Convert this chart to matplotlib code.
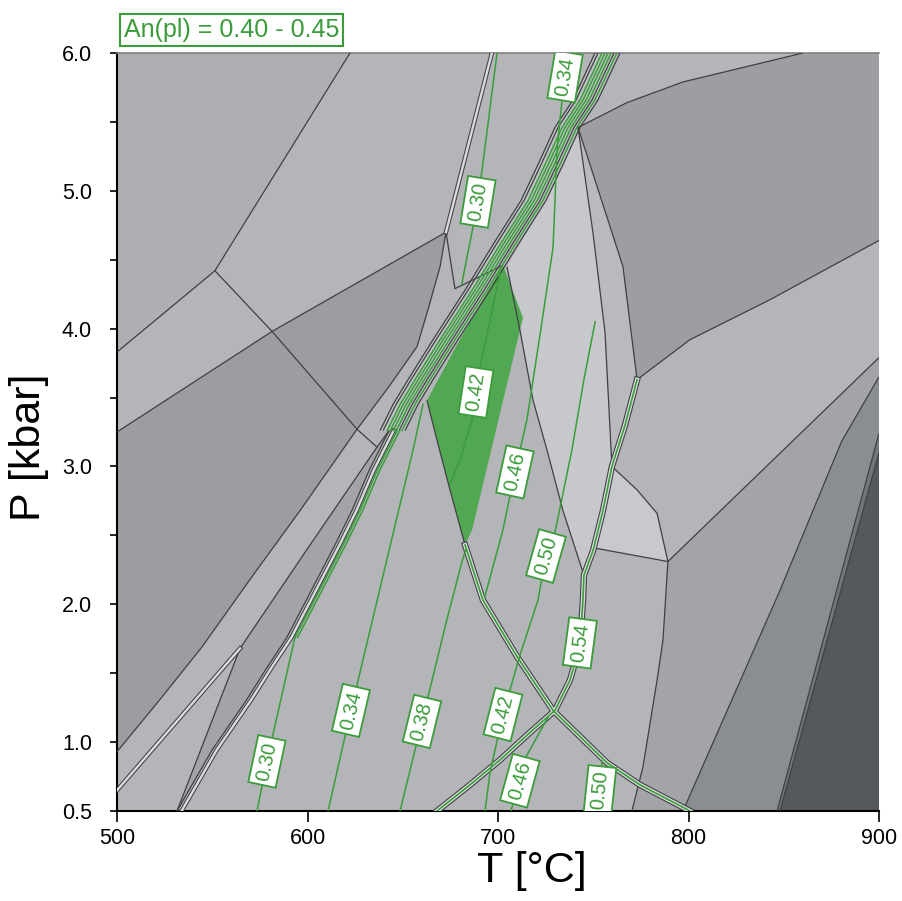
import numpy as np
import matplotlib
matplotlib.use("Agg")
import matplotlib.pyplot as plt
from matplotlib.patches import Polygon

plt.rcParams['font.family'] = ['Liberation Sans', 'DejaVu Sans']

# ---------------- axis data ----------------
x_ticks = [500, 600, 700, 800, 900]
y_ticks = [0.5, 1.0, 2.0, 3.0, 4.0, 5.0, 6.0]
y_tick_labels = ['0.5', '1.0', '2.0', '3.0', '4.0', '5.0', '6.0']
y_minor = [1.5, 2.5, 3.5, 4.5, 5.5]

# ---------------- field polygons (T degC, P kbar) ----------------
fieldA_T = [500, 622.3, 551.4, 500]
fieldA_P = [6.0, 6.0, 4.42, 3.83]
fieldE_T = [500, 581.4, 672.7, 669.6, 663.3, 657.5, 643.3, 626.0, 596.1, 569.8, 544.6, 522.6, 500]
fieldE_P = [3.25, 3.98, 4.70, 4.45, 4.14, 3.87, 3.59, 3.27, 2.68, 2.18, 1.69, 1.31, 0.93]
fieldW2_T = [531.5, 564.6, 601.3, 636.5, 642.8, 632.3, 623.4, 614.4, 605.0, 589.2, 578.7, 568.2, 549.9]
fieldW2_P = [0.50, 1.68, 2.43, 3.14, 3.26, 2.97, 2.68, 2.43, 2.18, 1.76, 1.54, 1.31, 0.94]
fieldL1_T = [742.0, 749.9, 756.2, 759.8, 755.1, 749.9, 745.1, 734.1, 725.7, 718.4, 711.5, 704.7, 725.2, 734.1]
fieldL1_P = [5.46, 4.69, 3.97, 3.01, 2.68, 2.39, 2.21, 2.68, 3.12, 3.48, 3.99, 4.45, 4.93, 5.19]
fieldL2_T = [742.0, 765.6, 773.0, 766.7, 759.8, 756.2, 749.9]
fieldL2_P = [5.46, 4.45, 3.63, 3.30, 3.01, 3.97, 4.69]
fieldD_T = [742.0, 767.7, 797.1, 860.1, 900, 900, 842.8, 800.8, 773.0, 765.6]
fieldD_P = [5.46, 5.64, 5.79, 6.0, 6.0, 4.64, 4.21, 3.92, 3.63, 4.45]
fieldL3_T = [759.8, 773.0, 783.5, 789.2, 749.9, 755.1]
fieldL3_P = [3.00, 2.83, 2.66, 2.31, 2.41, 2.68]
fieldR3_T = [789.2, 900, 900, 880.3, 848.0, 797.1, 770.3, 776.1, 783.5, 786.6]
fieldR3_P = [2.31, 3.79, 3.65, 3.18, 2.10, 0.50, 0.50, 0.82, 1.45, 1.74]
fieldR4_T = [900, 900, 846.5, 797.1, 848.0, 880.3]
fieldR4_P = [3.65, 3.24, 0.5, 0.5, 2.10, 3.18]
fieldS_T = [900, 900, 848.0, 846.5]
fieldS_P = [3.24, 3.10, 0.5, 0.5]
fieldR5_T = [900, 900, 848.0]
fieldR5_P = [3.10, 0.5, 0.5]
green_T = [702.6, 713.1, 686.4, 682.7, 674.8, 668.0, 662.7, 682.7]
green_P = [4.46, 4.08, 2.54, 2.43, 2.83, 3.19, 3.48, 3.99]

# ---------------- boundary band (many stacked lines) ----------------
band_T = [757.2, 745.7, 736.2, 727.3, 718.4, 703.7, 689.5, 672.2, 659.1, 651.2, 644.4]
band_P = [6.00, 5.66, 5.46, 5.19, 4.93, 4.61, 4.29, 3.92, 3.63, 3.45, 3.26]
band_offsets = [-6.3, -4.7, -2.6, -1.0, 0.6, 2.2, 3.7, 5.2, 6.8]
band_kinds = ['k', 'k', 'g', 'g', 'g', 'g', 'k', 'g', 'k']
low_T = [644.4, 633.9, 624.9, 616.0, 606.6, 590.8, 580.3, 569.8, 551.4, 533.1]
low_P = [3.26, 2.97, 2.68, 2.43, 2.18, 1.76, 1.54, 1.31, 0.94, 0.50]

# ---------------- field boundaries ----------------
line_a_T = [622.3, 551.4, 500]
line_a_P = [6.0, 4.42, 3.83]
line_b_T = [551.4, 581.4, 626.0, 636.5]
line_b_P = [4.42, 3.98, 3.27, 3.14]
line_L2_T = [500, 581.4, 672.7]
line_L2_P = [3.25, 3.98, 4.70]
dbl_top_T = [696.8, 672.7]
dbl_top_P = [6.0, 4.70]
line2_T = [564.6, 601.3, 636.5, 642.8]
line2_P = [1.68, 2.43, 3.14, 3.26]
dbl_left_T = [500, 564.6]
dbl_left_P = [0.65, 1.68]
wedge_T = [564.6, 531.5]
wedge_P = [1.68, 0.50]
short_T = [672.7, 677.4, 702.6]
short_P = [4.70, 4.29, 4.46]
gf_left_T = [662.7, 668.0, 674.8, 682.7]
gf_left_P = [3.48, 3.19, 2.83, 2.43]
desc_T = [682.7, 692.1, 710.0, 728.9, 757.2, 774.5, 800.8]
desc_P = [2.43, 2.03, 1.62, 1.23, 0.85, 0.69, 0.50]
asc_T = [668.0, 685.3, 701.0, 716.8, 729.9, 737.8, 743.0, 744.6, 745.1, 749.9, 755.1, 759.8, 766.7, 773.0]
asc_P = [0.50, 0.69, 0.87, 1.07, 1.23, 1.45, 1.70, 2.03, 2.21, 2.39, 2.68, 3.00, 3.30, 3.63]
arm_T = [704.7, 711.5, 718.4, 725.7, 734.1, 745.1]
arm_P = [4.45, 3.99, 3.48, 3.12, 2.68, 2.21]
lineA_T = [742.0, 749.9, 756.2, 759.8]
lineA_P = [5.46, 4.69, 3.97, 3.00]
lineB_T = [742.0, 765.6, 773.0]
lineB_P = [5.46, 4.45, 3.63]
Dtop_T = [742.0, 767.7, 797.1, 860.1]
Dtop_P = [5.46, 5.64, 5.79, 6.0]
Dbot_T = [773.0, 800.8, 842.8, 900]
Dbot_P = [3.63, 3.92, 4.21, 4.64]
R2bot_T = [900, 789.2]
R2bot_P = [3.79, 2.31]
L3edge_T = [759.8, 773.0, 783.5, 789.2, 749.9]
L3edge_P = [3.00, 2.83, 2.66, 2.31, 2.41]
lineC_T = [789.2, 786.6, 783.5, 776.1, 770.3]
lineC_P = [2.31, 1.74, 1.45, 0.82, 0.50]
line2R_T = [900, 880.3, 848.0, 797.1]
line2R_P = [3.65, 3.18, 2.10, 0.50]
line3R_T = [900, 846.5]
line3R_P = [3.24, 0.5]
line4R_T = [900, 848.0]
line4R_P = [3.10, 0.5]

# ---------------- An(pl) isopleths ----------------
iso030_up_T = [699.5, 689.5, 681.6, 681.1]
iso030_up_P = [6.0, 4.92, 4.37, 4.32]
iso046_up_T = [737.8, 735.2, 733.1, 731.0, 728.9, 722.0, 715.2, 708.9, 702.6, 693.0]
iso046_up_P = [6.0, 5.83, 5.59, 5.30, 4.59, 3.95, 3.34, 2.96, 2.54, 2.05]
iso042_gf_T = [701.0, 690.6, 686.4, 680.1, 674.8]
iso042_gf_P = [4.40, 3.72, 3.34, 3.05, 2.87]
iso050_T = [751.0, 745.1, 738.8, 729.9, 725.2, 721.0, 711.5, 702.6, 695.8, 693.2]
iso050_P = [4.05, 3.63, 3.12, 2.52, 2.35, 2.03, 1.63, 1.20, 0.78, 0.50]
iso030_low_T = [573.5, 578.7, 593.4]
iso030_low_P = [0.50, 0.86, 1.76]
iso034_low_T = [610.8, 622.8, 655.4, 660.6]
iso034_low_P = [0.50, 1.23, 3.12, 3.45]
iso038_low_T = [648.6, 660.1, 673.2, 681.1, 683.2]
iso038_low_P = [0.50, 1.15, 1.89, 2.31, 2.40]
iso046_low_T = [706.8, 711.5, 714.6, 726.2]
iso046_low_P = [0.50, 0.72, 0.89, 1.18]
iso050_low_T = [752.0, 753.5, 754.6]
iso050_low_P = [0.50, 0.65, 0.86]

label_text = ['0.30', '0.34', '0.42', '0.46', '0.50', '0.54', '0.30', '0.34', '0.38', '0.42', '0.46', '0.50']
label_T = [689.5, 735.2, 688.4, 708.9, 725.2, 743.0, 578.7, 622.8, 660.1, 702.6, 711.5, 753.5]
label_P = [4.92, 5.83, 3.54, 2.96, 2.35, 1.72, 0.86, 1.23, 1.15, 1.20, 0.72, 0.65]

title_text = 'An(pl) = 0.40 - 0.45'

# ---------------- styling ----------------
BASE = '#b3b5b8'
GREEN = '#3b9c3b'
DARK = '#3f4042'
LIGHT = '#d9dbdd'

fig = plt.figure(figsize=(9.02, 9.01), dpi=100)
ax = fig.add_axes([117/902, 90/901, 762/902, 758/901])
ax.set_xlim(500, 900)
ax.set_ylim(0.5, 6.0)
ax.set_facecolor(BASE)

fields = [
    (fieldA_T, fieldA_P, '#adafb2'),
    (fieldE_T, fieldE_P, '#9b9da0'),
    (fieldW2_T, fieldW2_P, '#a2a4a7'),
    (fieldL1_T, fieldL1_P, '#c6c8cb'),
    (fieldL2_T, fieldL2_P, '#b8babd'),
    (fieldD_T, fieldD_P, '#9c9ea1'),
    (fieldL3_T, fieldL3_P, '#c7c9cc'),
    (fieldR3_T, fieldR3_P, '#a2a4a7'),
    (fieldR4_T, fieldR4_P, '#8b8e91'),
    (fieldS_T, fieldS_P, '#737679'),
    (fieldR5_T, fieldR5_P, '#55585c'),
]
for T, P, c in fields:
    ax.add_patch(Polygon(np.column_stack([T, P]), closed=True, fc=c, ec='none', zorder=1))

# band fill
bT = np.array(band_T); bP = np.array(band_P)
left = np.column_stack([bT + min(band_offsets), bP])
right = np.column_stack([bT + max(band_offsets), bP])[::-1]
ax.add_patch(Polygon(np.vstack([left, right]), closed=True, fc='#bfc1c4', ec='none', zorder=1.5))

ax.add_patch(Polygon(np.column_stack([green_T, green_P]), closed=True, fc='#52a852', ec='none', zorder=2))


def black(T, P, lw=0.9):
    ax.plot(T, P, color=DARK, lw=lw, zorder=3, solid_capstyle='butt')


def double(T, P, green=False):
    if green:
        ax.plot(T, P, color=DARK, lw=4.6, zorder=3, solid_joinstyle='round')
        ax.plot(T, P, color=LIGHT, lw=3.0, zorder=3.1, solid_joinstyle='round')
        ax.plot(T, P, color=GREEN, lw=1.2, zorder=3.2, solid_joinstyle='round')
    else:
        ax.plot(T, P, color=DARK, lw=3.2, zorder=3, solid_joinstyle='round')
        ax.plot(T, P, color=LIGHT, lw=1.7, zorder=3.1, solid_joinstyle='round')


def gline(T, P, lw=1.1):
    ax.plot(T, P, color=GREEN, lw=lw, zorder=4)


for T, P in [(line_a_T, line_a_P), (line_b_T, line_b_P), (line_L2_T, line_L2_P),
             (fieldE_T[2:], fieldE_P[2:]), (line2_T, line2_P), (wedge_T, wedge_P),
             (short_T, short_P), (gf_left_T, gf_left_P), (arm_T, arm_P),
             (lineA_T, lineA_P), (lineB_T, lineB_P), (Dtop_T, Dtop_P), (Dbot_T, Dbot_P),
             (R2bot_T, R2bot_P), (L3edge_T, L3edge_P), (lineC_T, lineC_P),
             (line2R_T, line2R_P), (line3R_T, line3R_P), (line4R_T, line4R_P)]:
    black(T, P)

double(dbl_top_T, dbl_top_P)
double(dbl_left_T, dbl_left_P)
double(desc_T, desc_P, green=True)
double(asc_T, asc_P, green=True)

# upper band lines
for off, kind in zip(band_offsets, band_kinds):
    if kind == 'k':
        black(bT + off, bP)
    else:
        gline(bT + off, bP)

# lower band
lT = np.array(low_T); lP = np.array(low_P)
black(lT - 1.6, lP)
double(lT + 0.8, lP)
gline(lT[:6] + 2.6, lP[:6])
gline(lT[:6] + 4.0, lP[:6])

isos = [(iso030_up_T, iso030_up_P), (iso046_up_T, iso046_up_P), (iso042_gf_T, iso042_gf_P),
        (iso050_T, iso050_P), (iso030_low_T, iso030_low_P), (iso034_low_T, iso034_low_P),
        (iso038_low_T, iso038_low_P), (iso046_low_T, iso046_low_P), (iso050_low_T, iso050_low_P)]
for T, P in isos:
    gline(T, P)

label_lines = [isos[0], isos[1], isos[2], isos[1], isos[3], (asc_T, asc_P),
               isos[4], isos[5], isos[6], isos[3], isos[7], isos[8]]


def angle_at(T, P, p0):
    T = np.asarray(T, float); P = np.asarray(P, float)
    o = np.argsort(P)
    Ps, Ts = P[o], T[o]
    d = 0.05
    t1 = np.interp(p0 - d, Ps, Ts); t2 = np.interp(p0 + d, Ps, Ts)
    a = ax.transData.transform([(t1, p0 - d), (t2, p0 + d)])
    return np.degrees(np.arctan2(a[1, 1] - a[0, 1], a[1, 0] - a[0, 0]))


for s, t, p, (LT, LP) in zip(label_text, label_T, label_P, label_lines):
    ang = angle_at(LT, LP, p)
    ax.text(t, p, s, rotation=ang, rotation_mode='anchor', ha='center', va='center',
            fontsize=14.5, color=GREEN, zorder=6, clip_on=True,
            bbox=dict(boxstyle='square,pad=0.22', fc='white', ec=GREEN, lw=1.3))

# axes styling
ax.set_xticks(x_ticks)
ax.set_xticklabels([str(v) for v in x_ticks])
ax.set_yticks(y_ticks)
ax.set_yticklabels(y_tick_labels)
ax.set_yticks(y_minor, minor=True)
ax.tick_params(axis='x', direction='out', length=8, width=1.2, pad=4, labelsize=15.5)
ax.tick_params(axis='y', which='both', direction='out', length=5, width=1.2, pad=13, labelsize=15.5)
for side in ['left', 'bottom']:
    ax.spines[side].set_color('black')
    ax.spines[side].set_linewidth(1.5)
ax.spines['top'].set_color('#808080')
ax.spines['top'].set_linewidth(1.2)
ax.spines['right'].set_visible(False)

ax.set_xlabel('T [°C]', fontsize=31)
ax.xaxis.set_label_coords(0.545, -0.053)
ax.set_ylabel('P [kbar]', fontsize=31)
ax.yaxis.set_label_coords(-0.089, 0.48)

fig.text(124/902, 1 - 30/901, title_text, fontsize=18, color=GREEN, ha='left', va='center',
         bbox=dict(boxstyle='square,pad=0.15', fc='white', ec=GREEN, lw=1.5))

fig.savefig('out.png', dpi=100)
